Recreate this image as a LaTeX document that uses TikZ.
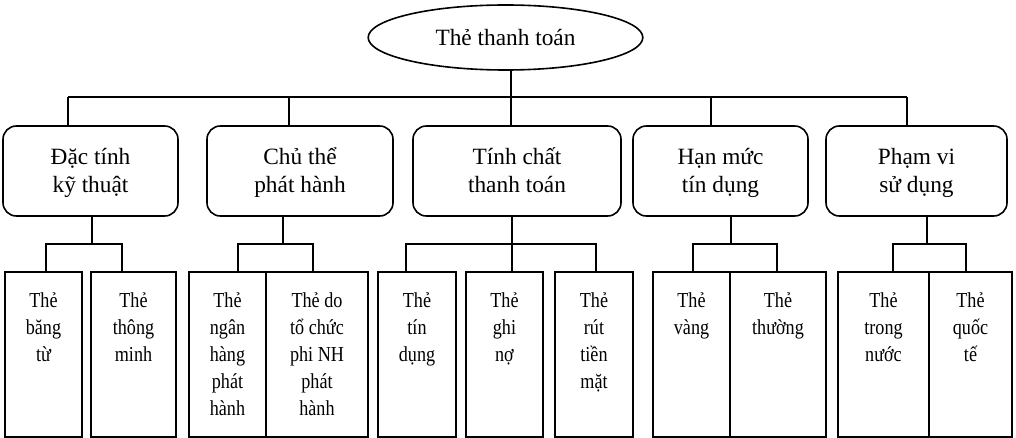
\documentclass[tikz,border=0pt]{standalone}
\usepackage{fontspec}
\setmainfont{Liberation Serif}
\newfontfamily\leaffont{Liberation Serif}[FakeStretch=0.85]
\usetikzlibrary{shapes.geometric}
\newcommand\hitop{\rule{0pt}{16pt}}
\newcommand\lobot{\rule[-5pt]{0pt}{5pt}}
\begin{document}
\begin{tikzpicture}[x=0.75pt,y=-0.75pt,
  every path/.style={line width=1.2pt},
  rootnode/.style={draw,ellipse,line width=1.2pt,minimum width=206pt,minimum height=48.75pt,inner sep=0pt,
    font=\fontsize{17.5pt}{21pt}\selectfont},
  topbox/.style={draw,rounded corners=10pt,line width=1.2pt,minimum height=67.5pt,inner sep=0pt,align=center,
    font=\fontsize{17.5pt}{21pt}\selectfont},
  leafbox/.style={draw,line width=1.2pt,minimum height=123.75pt,inner sep=0pt},
  leaftext/.style={anchor=north,inner sep=0pt,align=center,font=\leaffont\fontsize{16pt}{20.25pt}\selectfont},
  link/.style={draw,line width=1.2pt}]
\useasboundingbox (0,0) rectangle (1016,438);
% root
\node[rootnode] (root) at (505.5,37.5) {Thẻ thanh toán};
% top boxes
\node[topbox,minimum width=131.25pt] (t1) at (90.5,171) {\hitop Đặc tính\\kỹ thuật\lobot};
\node[topbox,minimum width=139.5pt] (t2) at (300,171) {\hitop Chủ thể\\phát hành\lobot};
\node[topbox,minimum width=156pt] (t3) at (517,171) {\hitop Tính chất\\thanh toán\lobot};
\node[topbox,minimum width=131.25pt] (t4) at (720.5,171) {\hitop Hạn mức\\tín dụng\lobot};
\node[topbox,minimum width=135.75pt] (t5) at (916.5,171) {\hitop Phạm vi\\sử dụng\lobot};
% leaf boxes
\node[leafbox,minimum width=57.75pt] (a) at (43.5,354.5) {};
\node[leafbox,minimum width=63.75pt] (b) at (133.5,354.5) {};
\node[leafbox,minimum width=57.75pt] (c) at (227.5,354.5) {};
\node[leafbox,minimum width=76.5pt] (d) at (317,354.5) {};
\node[leafbox,minimum width=58.5pt] (e) at (417,354.5) {};
\node[leafbox,minimum width=57.75pt] (f) at (504.5,354.5) {};
\node[leafbox,minimum width=58.5pt] (g) at (594,354.5) {};
\node[leafbox,minimum width=57.75pt] (h) at (691.5,354.5) {};
\node[leafbox,minimum width=72pt] (i) at (778,354.5) {};
\node[leafbox,minimum width=68.25pt] (j) at (883.5,354.5) {};
\node[leafbox,minimum width=62.25pt] (k) at (970.5,354.5) {};
% leaf texts
\node[leaftext] (ta) at ([yshift=-15.3pt]a.north) {Thẻ\\băng\\từ};
\node[leaftext] (tb) at ([yshift=-15.3pt]b.north) {Thẻ\\thông\\minh};
\node[leaftext] (tc) at ([yshift=-15.3pt]c.north) {Thẻ\\ngân\\hàng\\phát\\hành};
\node[leaftext] (td) at ([yshift=-15.3pt]d.north) {Thẻ do\\tổ chức\\phi NH\\phát\\hành};
\node[leaftext] (te) at ([yshift=-15.3pt]e.north) {Thẻ\\tín\\dụng};
\node[leaftext] (tf) at ([yshift=-15.3pt]f.north) {Thẻ\\ghi\\nợ};
\node[leaftext] (tg) at ([yshift=-15.3pt]g.north) {Thẻ\\rút\\tiền\\mặt};
\node[leaftext] (th) at ([yshift=-15.3pt]h.north) {Thẻ\\vàng};
\node[leaftext] (ti) at ([yshift=-15.3pt]i.north) {Thẻ\\thường};
\node[leaftext] (tj) at ([yshift=-15.3pt]j.north) {Thẻ\\trong\\nước};
\node[leaftext] (tk) at ([yshift=-15.3pt]k.north) {Thẻ\\quốc\\tế};
% root to top level
\coordinate (bus) at (511,97);
\coordinate (bl) at (68,97);
\coordinate (br) at (907,97);
\draw[link] (bus |- root.south) -- (bus);
\draw[link] (bl) -- (br);
\draw[link] (bl) -- (bl |- t1.north);
\draw[link] (289,97) -- (t2.north -| 289,0);
\draw[link] (bus) -- (t3.north -| bus);
\draw[link] (711,97) -- (t4.north -| 711,0);
\draw[link] (br) -- (br |- t5.north);
% top level to leaves
\draw[link] (t1.south -| 92,0) -- (92,244);
\draw[link] (a.north -| 46,0) -- (46,244) -- (122,244) -- (b.north -| 122,0);
\draw[link] (t2.south -| 283,0) -- (283,244);
\draw[link] (c.north -| 238,0) -- (238,244) -- (313,244) -- (d.north -| 313,0);
\draw[link] (t3.south -| 512,0) -- (f.north -| 512,0);
\draw[link] (e.north -| 406,0) -- (406,244) -- (596,244) -- (g.north -| 596,0);
\draw[link] (t4.south -| 731,0) -- (731,244);
\draw[link] (h.north -| 693,0) -- (693,244) -- (777,244) -- (i.north -| 777,0);
\draw[link] (t5.south -| 927,0) -- (927,244);
\draw[link] (j.north -| 893,0) -- (893,244) -- (966,244) -- (k.north -| 966,0);
\end{tikzpicture}
\end{document}
